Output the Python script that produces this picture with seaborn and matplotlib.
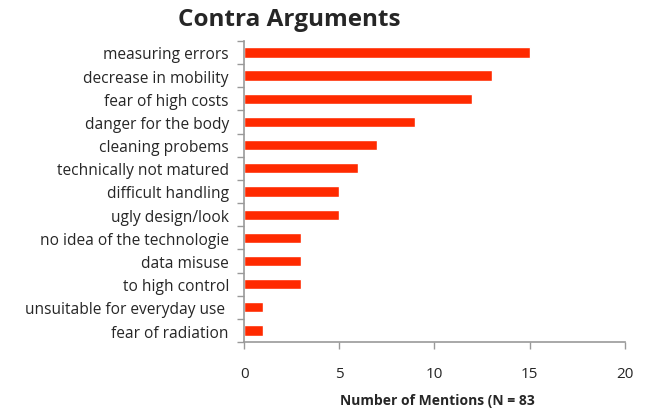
import matplotlib
matplotlib.use("Agg")
import matplotlib.pyplot as plt
import seaborn as sns
import pandas as pd
import numpy as np

# chart data
arguments = [
    "measuring errors", "decrease in mobility", "fear of high costs",
    "danger for the body", "cleaning probems", "technically not matured",
    "difficult handling", "ugly design/look", "no idea of the technologie",
    "data misuse", "to high control", "unsuitable for everyday use ",
    "fear of radiation",
]
mentions = [15, 13, 12, 9, 7, 6, 5, 5, 3, 3, 3, 1, 1]
x_ticks = [0, 5, 10, 15, 20]

df = pd.DataFrame({"Argument": arguments, "Mentions": mentions})

sns.set_theme(style="white")
plt.rcParams["font.family"] = ["Open Sans", "DejaVu Sans"]

fig = plt.figure(figsize=(6.46, 4.10), dpi=100)
ax = fig.add_axes([0.378, 0.163, 0.589, 0.735])

sns.barplot(data=df, x="Mentions", y="Argument", color="#FF2A00",
            saturation=1, width=0.44, ax=ax)

ax.set_xlim(0, 20)
ax.set_ylim(len(arguments) - 0.5, -0.5)
ax.set_xticks(x_ticks)
ax.set_xticklabels([str(t) for t in x_ticks], fontsize=11)
ax.tick_params(axis="x", bottom=True, length=5, color="#999999", width=1, pad=12)
ax.tick_params(axis="y", which="major", left=False, length=0, labelsize=11.2, pad=11)
ax.set_yticks(np.arange(-0.5, len(arguments), 1), minor=True)
ax.tick_params(axis="y", which="minor", left=True, length=5, color="#999999", width=1)

for side in ["top", "right"]:
    ax.spines[side].set_visible(False)
for side in ["left", "bottom"]:
    ax.spines[side].set_color("#999999")
    ax.spines[side].set_linewidth(1.2)

ax.set_ylabel("")
ax.set_xlabel("")
fig.text(437 / 646, 1 - 401 / 410, "Number of Mentions (N = 83", fontsize=10,
         fontweight="bold", ha="center", va="center")
fig.text(0.447, 0.95, "Contra Arguments", fontsize=17.5, fontweight="bold",
         ha="center", va="center")

fig.savefig("out.png", dpi=100)
